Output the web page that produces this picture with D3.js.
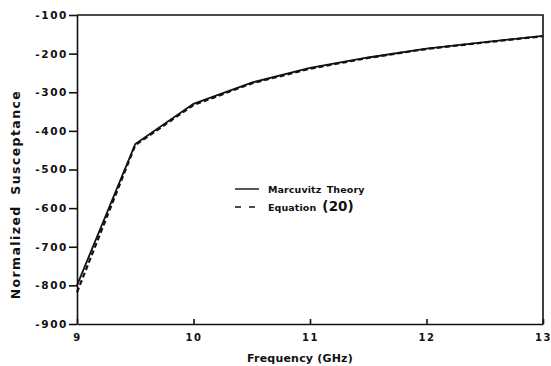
<!DOCTYPE html>
<html>
<head>
<meta charset="utf-8">
<script src="https://cdn.jsdelivr.net/npm/d3@7"></script>
<style>
  body { margin: 0; background: #fff; }
  #chart { width: 551px; height: 366px; }
  text { font-family: "DejaVu Sans", sans-serif; font-weight: bold; fill: #111; }
</style>
</head>
<body>
<div id="chart"></div>
<script>
// values
let freq = [9, 9.5, 10, 10.5, 11, 11.5, 12, 12.5, 13];
let marcuvitz = [-800, -434, -330, -275, -237, -210, -187, -170, -154];
let equation20 = [-818, -437, -333, -277, -239, -211, -188, -171, -155];
let xTicks = [9, 10, 11, 12, 13];
let yTicks = [-100, -200, -300, -400, -500, -600, -700, -800, -900];
let legendNames = ["Marcuvitz Theory", "Equation"];

function initChart() {
    let margin = { top: 15, right: 8, bottom: 42, left: 77 },
        width = 551 - margin.left - margin.right,
        height = 366 - margin.top - margin.bottom;

    let svg = d3.select("#chart").append("svg")
        .attr("width", 551)
        .attr("height", 366)
        .append("g")
        .attr("transform", "translate(" + margin.left + "," + margin.top + ")");

    let x = d3.scaleLinear().domain([9, 13]).range([0, width]);
    let y = d3.scaleLinear().domain([-900, -100]).range([height, 0]);

    // frame (top and right)
    svg.append("path")
        .attr("d", "M0,0H" + width + "V" + height)
        .attr("fill", "none")
        .attr("stroke", "#111")
        .attr("stroke-width", 1.6);

    // X axis, ticks point inward
    let xAxis = svg.append("g")
        .attr("transform", "translate(0," + height + ")")
        .call(d3.axisBottom(x).tickValues(xTicks).tickSize(-5).tickSizeOuter(0).tickFormat(d3.format("d")));
    xAxis.selectAll("text").attr("y", 10).style("font-size", "10px").style("letter-spacing", "1.5px");

    // Y axis, ticks point outward
    let yAxis = svg.append("g")
        .call(d3.axisLeft(y).tickValues(yTicks).tickSize(8).tickPadding(1).tickSizeOuter(0)
            .tickFormat(d => "-" + Math.abs(d)));
    yAxis.selectAll("text").style("font-size", "10.5px").style("letter-spacing", "1.6px");

    svg.selectAll(".domain, .tick line").attr("stroke", "#111").attr("stroke-width", 1.6);

    // axis titles
    svg.append("text")
        .attr("x", width / 2 - 10)
        .attr("y", height + 38)
        .attr("text-anchor", "middle")
        .style("font-size", "11px")
        .style("letter-spacing", "0.2px")
        .text("Frequency (GHz)");

    svg.append("text")
        .attr("transform", "translate(" + (-57) + "," + (y(-565)) + ") rotate(-90)")
        .attr("text-anchor", "middle")
        .style("font-size", "12.5px")
        .style("letter-spacing", "1.4px")
        .style("word-spacing", "5px")
        .text("Normalized Susceptance");

    // lines
    let line = d3.line()
        .x((d, i) => x(freq[i]))
        .y(d => y(d));

    svg.append("path")
        .datum(marcuvitz)
        .attr("fill", "none")
        .attr("stroke", "#111")
        .attr("stroke-width", 1.8)
        .attr("d", line);

    svg.append("path")
        .datum(equation20)
        .attr("fill", "none")
        .attr("stroke", "#111")
        .attr("stroke-width", 2.2)
        .attr("stroke-dasharray", "5,3")
        .attr("d", line);

    // legend
    let legend = svg.append("g").attr("transform", "translate(158,174)");
    legend.append("line")
        .attr("x1", 0).attr("x2", 24).attr("y1", 0).attr("y2", 0)
        .attr("stroke", "#111").attr("stroke-width", 1.4);
    legend.append("line")
        .attr("x1", 0).attr("x2", 24).attr("y1", 18).attr("y2", 18)
        .attr("stroke", "#111").attr("stroke-width", 1.4)
        .attr("stroke-dasharray", "6,8");
    legend.append("text")
        .attr("x", 33).attr("y", 4)
        .style("font-size", "9.5px")
        .style("letter-spacing", "0.1px")
        .style("word-spacing", "2px")
        .text(legendNames[0]);
    let t2 = legend.append("text")
        .attr("x", 33).attr("y", 22)
        .style("font-size", "9.5px")
        .style("letter-spacing", "0.1px");
    t2.append("tspan").text(legendNames[1]);
    t2.append("tspan").attr("dx", 6).style("font-size", "13.5px").text("(20)");
}

initChart();
</script>
</body>
</html>
